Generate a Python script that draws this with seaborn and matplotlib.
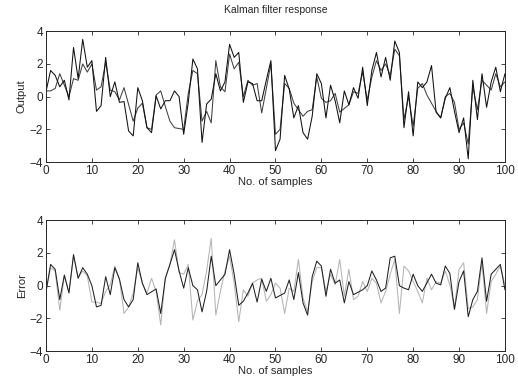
'''
Kalman filter response: output vs estimate, and the two error traces.
'''
import numpy as np
import pandas as pd
import matplotlib
matplotlib.use('Agg')
import matplotlib.pyplot as plt
import seaborn as sns

nan = np.nan

# Sample index.
samples = list(range(101))

# Measured output (top, black).
output = [0.3, 1.6, 1.3, 0.6, 1.0, -0.2, 3.0, 1.1, 3.5, 1.8,
          2.2, -0.9, -0.55, 2.4, 0.0, 0.9, -0.35, -0.3, -2.1, -2.4,
          0.55, -0.25, -1.9, -2.2, 0.05, -0.75, -0.25, -0.25, 0.35, 0.0,
          -2.3, -0.35, 2.3, 1.7, -2.8, -0.45, -0.15, 1.4, 0.35, 0.9,
          3.2, 2.4, 2.7, -0.35, 0.9, 0.8, -0.25, -0.25, 1.0, 2.2,
          -3.3, -2.6, 1.3, 0.45, -1.3, -0.55, -2.2, -2.6, -1.2, 1.4,
          0.8, -1.3, 0.7, -0.25, -1.6, 0.35, -0.5, 0.55, -0.1, 1.8,
          -0.55, 1.6, 2.7, 1.2, 2.4, 1.0, 3.4, 2.7, -1.9, 0.3,
          -2.4, 0.9, 0.55, 0.9, 1.9, -0.95, -1.3, -0.1, 0.55, -0.9,
          -2.2, -1.3, -3.8, 1.0, -1.4, 1.4, -0.65, 0.9, 1.8, 0.3,
          1.4]

# Filter estimate (top, dark gray).
estimate = [0.35, 0.35, 0.5, 1.4, 0.7, 0.0, 1.1, 1.0, 2.0, 1.5,
            2.0, 0.4, 0.6, 2.1, 0.4, 0.3, -0.2, 0.55, nan, -1.5,
            -0.7, -0.4, -1.9, -2.0, 0.1, 0.35, -0.6, -1.5, -1.9, nan,
            -2.0, 0.2, 1.6, 1.4, -1.5, -0.9, -1.6, 2.2, 0.6, 0.3,
            2.6, 1.7, 2.1, 0.0, 1.0, 0.7, 0.8, -1.0, nan, 2.0,
            -2.3, -2.0, 0.8, 0.5, -0.4, -0.8, -1.2, -0.9, -0.8, 1.2,
            -0.1, -0.35, -0.25, 0.2, -0.95, nan, -0.5, 0.3, 0.2, 1.5,
            -0.2, 1.2, 2.2, 1.6, 2.0, 1.3, 2.9, 2.5, -1.4, 0.0,
            -1.8, 0.5, 0.8, 0.1, nan, -0.9, -1.3, 0.0, 0.2, -0.35,
            -2.0, -1.6, -2.9, 0.6, -0.8, 1.0, 0.7, 0.4, 1.4, 0.6,
            0.9]

# Error traces (bottom, black and light gray).
error1 = [-0.4, 1.3, 1.0, -0.85, 0.65, -0.45, 1.9, 0.45, 1.1, 0.7,
          0.0, -1.3, -1.2, 0.55, -0.55, 1.1, 0.4, -0.85, -1.3, -0.85,
          1.4, 0.15, -0.55, nan, -0.2, -1.7, 0.45, 1.3, 2.2, 0.9,
          -0.15, 1.1, 0.0, -0.25, -1.6, -0.35, 1.8, 0.0, 0.35, 0.7,
          2.2, 0.7, -1.2, -0.95, -0.45, 0.15, -1.0, 0.4, -0.35, 0.45,
          -0.75, nan, -0.45, 0.35, -0.85, 0.8, -1.05, -1.8, 0.55, 1.5,
          1.2, -0.65, 1.0, 0.15, 0.35, -1.05, 0.25, -0.55, nan, -0.25,
          0.0, 0.9, 0.35, -0.35, -0.15, 1.7, 1.8, 0.0, -0.15, -0.25,
          0.7, 0.0, -0.35, nan, 0.7, 0.15, 0.05, 1.2, 0.75, -1.45,
          0.25, 0.9, -1.9, -0.85, -0.35, 1.7, -0.95, 0.7, 1.0, 1.3,
          -0.25]

error2 = [-0.3, 1.1, 0.9, -1.5, 0.6, -0.4, 1.8, 0.5, 0.9, 0.6,
          -1.0, -1.0, -1.1, -0.35, 0.05, 1.2, 0.4, -1.7, -1.3, -0.45,
          1.1, 0.15, -0.45, 0.45, -0.35, -2.4, 0.45, 1.3, 2.8, 0.8,
          0.7, 1.3, -2.1, -0.95, -0.55, 0.9, 2.9, -1.8, -0.35, 0.9,
          1.8, 0.15, -2.2, -0.25, -0.65, 0.15, 0.35, 0.45, -0.95, -0.55,
          0.15, -0.15, -1.7, -0.15, -0.35, 1.6, -0.75, -1.6, 0.25, 1.1,
          1.1, -0.35, 0.7, 0.05, 1.6, -0.65, 1.0, -0.85, -0.65, 0.25,
          -0.35, 0.45, 0.15, -1.05, -0.35, 0.7, 1.6, -1.7, 1.2, 0.9,
          0.25, -0.35, -1.05, 0.45, -0.25, 0.25, 0.15, 0.9, 0.05, -1.4,
          1.0, 1.4, -1.4, -1.3, -0.85, 1.4, -1.7, 0.25, 0.7, 1.2,
          0.05]

sns.set_style('ticks')
plt.rcParams['font.family'] = ['Liberation Sans', 'DejaVu Sans']

top = pd.DataFrame({'n': samples, 'output': output, 'estimate': estimate})
bot = pd.DataFrame({'n': samples, 'e1': error1, 'e2': error2})

fig = plt.figure(figsize=(5.18, 3.85), dpi=100)
ax1 = fig.add_axes([0.0888, 0.579, 0.886, 0.340])
ax2 = fig.add_axes([0.0888, 0.088, 0.886, 0.340])

# Top: output and estimate.
sns.lineplot(data=top, x='n', y='estimate', ax=ax1, color='#404040', lw=0.75)
sns.lineplot(data=top, x='n', y='output', ax=ax1, color='#111111', lw=0.75)

# Bottom: the two error traces.
sns.lineplot(data=bot, x='n', y='e2', ax=ax2, color='#b4b4b4', lw=0.75)
sns.lineplot(data=bot, x='n', y='e1', ax=ax2, color='#222222', lw=0.75)

for ax, ylab in ((ax1, 'Output'), (ax2, 'Error')):
  ax.set_xlim(0, 100)
  ax.set_ylim(-4, 4)
  ax.set_xticks(range(0, 101, 10))
  ax.set_yticks([-4, -2, 0, 2, 4])
  ax.tick_params(direction='in', top=True, right=True, labelsize=8.5,
                 length=3, width=0.6, pad=2)
  for s in ax.spines.values():
    s.set_linewidth(0.7)
  ax.set_xlabel('No. of samples', fontsize=8, labelpad=0)
  ax.set_ylabel(ylab, fontsize=8, labelpad=2)

ax1.set_title('Kalman filter response', fontsize=7.5, pad=13)

fig.savefig('out.png', dpi=100)
